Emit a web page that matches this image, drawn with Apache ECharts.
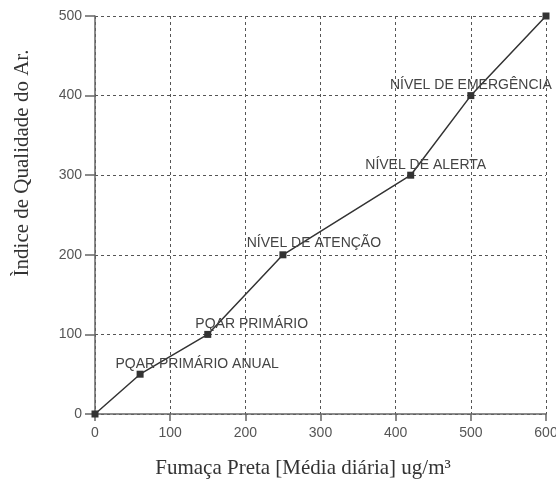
<!DOCTYPE html>
<html>
<head>
<meta charset="utf-8">
<script src="https://cdn.jsdelivr.net/npm/echarts@6/dist/echarts.min.js"></script>
<style>
  html, body { margin: 0; padding: 0; background: #fff; }
  #container { width: 556px; height: 484px; }
</style>
</head>
<body>
<div id="container"></div>
<script>
// fumaça preta (ug/m3) vs índice de qualidade do ar
var fumaca = [0, 60, 150, 250, 420, 500, 600];
var indice = [0, 50, 100, 200, 300, 400, 500];
var nomes = ['', 'PQAR PRIMÁRIO ANUAL', 'PQAR PRIMÁRIO', 'NÍVEL DE ATENÇÃO', 'NÍVEL DE ALERTA', 'NÍVEL DE EMERGÊNCIA', ''];

// where each label sits relative to its point
var labelOffset = [[0, 0], [57, 5], [44, 5], [31, 4], [15, 5], [0, 5], [0, 0]];

var points = [];
for (var i = 0; i < fumaca.length; i++) {
    points.push({
        value: [fumaca[i], indice[i]],
        label: {
            show: nomes[i] !== '',
            formatter: nomes[i],
            offset: labelOffset[i]
        }
    });
}

var option = {
    animation: false,
    backgroundColor: '#fff',
    grid: {
        left: 95,
        right: 10,
        top: 16,
        bottom: 70,
        outerBoundsMode: 'none'
    },
    xAxis: {
        type: 'value',
        min: 0, max: 600, interval: 100,
        name: 'Fumaça Preta [Média diária] ug/m³',
        nameLocation: 'middle',
        nameGap: 44,
        nameTextStyle: {
            fontFamily: 'Liberation Serif',
            fontSize: 21,
            color: '#333',
            padding: [0, 35, 0, 0]
        },
        axisLine: { lineStyle: { color: '#666', width: 1.5 } },
        axisTick: { length: 7, lineStyle: { color: '#666', width: 1.5 } },
        axisLabel: { margin: 12, fontFamily: 'Liberation Sans', fontSize: 14, color: '#555' },
        splitLine: { lineStyle: { color: '#555', type: [3, 3], width: 1 } }
    },
    yAxis: {
        type: 'value',
        min: 0, max: 500, interval: 100,
        name: 'Ìndice de Qualidade do Ar.',
        nameLocation: 'middle',
        nameGap: 62,
        nameTextStyle: {
            fontFamily: 'Liberation Serif',
            fontSize: 21,
            color: '#333',
            padding: [0, 0, 0, 104]
        },
        axisLine: { show: true, lineStyle: { color: '#666', width: 1.5 } },
        axisTick: { show: true, length: 10, lineStyle: { color: '#666', width: 1.5 } },
        axisLabel: { margin: 13, fontFamily: 'Liberation Sans', fontSize: 14, color: '#555' },
        splitLine: { lineStyle: { color: '#555', type: [3, 3], width: 1 } }
    },
    series: [{
        type: 'line',
        data: points,
        symbol: 'rect',
        symbolSize: 7,
        showAllSymbol: true,
        lineStyle: { color: '#333', width: 1.5 },
        itemStyle: { color: '#333' },
        label: {
            position: 'top',
            distance: 5,
            fontFamily: 'Liberation Sans',
            fontSize: 14,
            color: '#444'
        }
    }]
};

var myChart = echarts.init(document.getElementById('container'));
myChart.setOption(option);
</script>
</body>
</html>
